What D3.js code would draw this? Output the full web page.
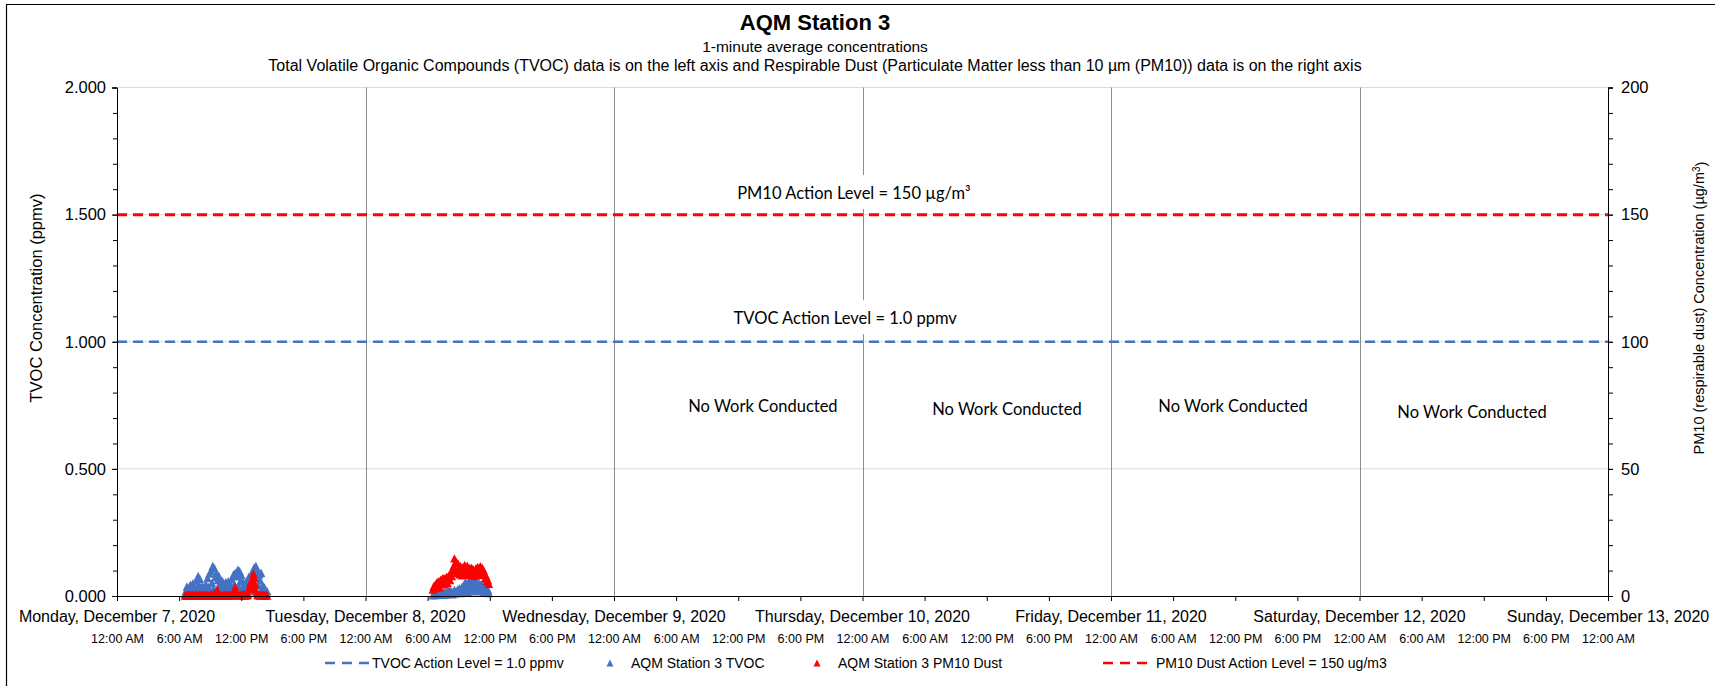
<!DOCTYPE html>
<html>
<head>
<meta charset="utf-8">
<script src="https://cdn.jsdelivr.net/npm/d3@7"></script>
<style>
  body { margin: 0; background: #fff; }
  svg { display: block; font-family: "Liberation Sans", Arial, sans-serif; }
</style>
</head>
<body>
<script>
var w = 1715;
var h = 686;

// titles
var title = "AQM Station 3";
var subtitle1 = "1-minute average concentrations";
var subtitle2 = "Total Volatile Organic Compounds (TVOC) data is on the left axis and Respirable Dust (Particulate Matter less than 10 \u00b5m (PM10)) data is on the right axis";
var leftTitle = "TVOC Concentration (ppmv)";

// axis ranges / ticks
var dayStart = new Date(2020, 11, 7);
var dayEnd = new Date(2020, 11, 13);
var dayLabels = ["Monday, December 7, 2020", "Tuesday, December 8, 2020", "Wednesday, December 9, 2020",
  "Thursday, December 10, 2020", "Friday, December 11, 2020", "Saturday, December 12, 2020", "Sunday, December 13, 2020"];
var leftTicks = [0, 0.5, 1, 1.5, 2];
var rightTicks = [0, 50, 100, 150, 200];

// 5-minute readings, Monday from 6:35 AM and Tuesday from 6:30 AM
var monStart = new Date(2020, 11, 7, 6, 35);
var tueStart = new Date(2020, 11, 8, 6, 30);
var stepMinutes = 5;

var tvocMon = [0.008, 0.021, 0.037, 0.012, 0.029, 0.018,
  0.044, 0.015, 0.031, 0.050, 0.022, 0.039,
  0.027, 0.061, 0.014, 0.079, 0.045, 0.068,
  0.033, 0.012, 0.040, 0.021, 0.028, 0.009,
  0.046, 0.018, 0.071, 0.035, 0.088, 0.025,
  0.097, 0.052, 0.118, 0.031, 0.109, 0.074,
  0.088, 0.019, 0.063, 0.080, 0.042, 0.057,
  0.028, 0.060, 0.014, 0.047, 0.035, 0.055,
  0.021, 0.043, 0.058, 0.011, 0.050, 0.032,
  0.067, 0.024, 0.085, 0.046, 0.090, 0.016,
  0.078, 0.103, 0.037, 0.098, 0.059, 0.084,
  0.026, 0.057, 0.041, 0.012, 0.053, 0.034,
  0.064, 0.022, 0.077, 0.048, 0.080, 0.030,
  0.095, 0.056, 0.112, 0.019, 0.118, 0.071,
  0.100, 0.043, 0.086, 0.062, 0.091, 0.027,
  0.040, 0.015, 0.033, 0.024, 0.011, 0.019];

var pm10Mon = [0.2, 0.4, 0.1, 0.3, 0.5, 0.2,
  0.3, 0.1, 0.5, 0.2, 0.4, 0.2,
  0.3, 0.5, 0.1, 0.4, 0.2, 0.6,
  0.2, 0.4, 0.1, 0.3, 0.5, 0.3,
  0.4, 0.2, 0.5, 0.1, 0.3, 0.4,
  0.2, 0.5, 0.3, 0.7, 0.4, 0.2,
  1.2, 2.6, 1.0, 0.4, 0.5, 0.2,
  0.4, 0.1, 0.3, 0.5, 0.2, 0.4,
  0.2, 0.5, 0.3, 0.1, 0.4, 0.3,
  0.5, 0.3, 0.9, 1.8, 3.4, 1.4,
  0.6, 0.4, 0.2, 0.5, 0.3, 0.5,
  0.3, 0.4, 0.7, 0.4, 0.2, 0.5,
  0.3, 0.8, 2.8, 4.1, 5.6, 3.2,
  6.4, 8.9, 7.2, 4.8, 2.6, 1.2,
  0.5, 0.3, 0.4, 0.2, 0.3, 0.5,
  0.2, 0.4, 0.1, 0.3, 0.5, 0.2];

var tvocTue = [0.003, 0.008, 0.005, 0.011, 0.004, 0.009,
  0.006, 0.012, 0.007, 0.014, 0.005, 0.010,
  0.013, 0.008, 0.017, 0.006, 0.015, 0.011,
  0.019, 0.009, 0.022, 0.014, 0.018, 0.007,
  0.016, 0.024, 0.011, 0.021, 0.013, 0.026,
  0.018, 0.031, 0.012, 0.027, 0.036, 0.015,
  0.042, 0.021, 0.055, 0.033, 0.048, 0.017,
  0.060, 0.028, 0.052, 0.063, 0.024, 0.049,
  0.037, 0.058, 0.019, 0.054, 0.044, 0.031,
  0.050, 0.022, 0.046, 0.035, 0.041, 0.016,
  0.038, 0.027, 0.033, 0.018, 0.025, 0.012];

var pm10Tue = [2.6, 3.8, 3.0, 4.5, 3.3, 5.5,
  4.0, 5.8, 3.4, 6.3, 4.8, 6.9,
  5.4, 7.1, 4.6, 6.7, 7.6, 5.2,
  7.2, 8.4, 6.3, 9.2, 7.9, 9.8,
  11.8, 14.8, 10.2, 13.5, 9.0, 12.9,
  11.0, 8.6, 11.8, 9.6, 8.2, 11.4,
  9.3, 12.2, 10.4, 8.5, 11.9, 9.8,
  8.4, 11.0, 9.2, 11.1, 8.1, 10.4,
  9.8, 8.0, 10.9, 8.8, 11.4, 8.6,
  10.6, 11.7, 9.3, 11.2, 8.3, 10.1,
  8.6, 7.0, 7.8, 5.9, 6.2, 4.8];

var tvocAction = 1.0;
var pm10Action = 150;

// text boxes placed on the chart (time, ppmv on left axis)
var notes = [
  { text: "PM10 Action Level = 150 \u00b5g/m\u00b3", date: new Date(2020, 11, 9, 23, 10), ppmv: 1.585, box: true },
  { text: "TVOC Action Level = 1.0 ppmv", date: new Date(2020, 11, 9, 22, 20), ppmv: 1.093, box: true },
  { text: "No Work Conducted", date: new Date(2020, 11, 9, 14, 23), ppmv: 0.747 },
  { text: "No Work Conducted", date: new Date(2020, 11, 10, 13, 57), ppmv: 0.735 },
  { text: "No Work Conducted", date: new Date(2020, 11, 11, 11, 47), ppmv: 0.747 },
  { text: "No Work Conducted", date: new Date(2020, 11, 12, 10, 52), ppmv: 0.724 }
];

var legendItems = [
  { name: "TVOC Action Level = 1.0 ppmv", kind: "line", color: "#4472C4" },
  { name: "AQM Station 3 TVOC", kind: "marker", color: "#4472C4" },
  { name: "AQM Station 3 PM10 Dust", kind: "marker", color: "#FF0000" },
  { name: "PM10 Dust Action Level = 150 ug/m3", kind: "line", color: "#FF0000" }
];

function toSeries(start, values) {
  return values.map(function(v, i) {
    return { t: d3.timeMinute.offset(start, i * stepMinutes), v: v };
  });
}
var tvocData = toSeries(monStart, tvocMon).concat(toSeries(tueStart, tvocTue));
var pm10Data = toSeries(monStart, pm10Mon).concat(toSeries(tueStart, pm10Tue));

var margin = { left: 117, right: 107, top: 87.5, bottom: 90 };
var plotW = w - margin.left - margin.right;
var plotH = h - margin.top - margin.bottom;

var x = d3.scaleTime().domain([dayStart, dayEnd]).range([0, plotW]);
var yL = d3.scaleLinear().domain([0, 2]).range([plotH, 0]);
var yR = d3.scaleLinear().domain([0, 200]).range([plotH, 0]);

var svg = d3.select("body")
  .append("svg")
  .attr("width", w)
  .attr("height", h);

svg.append("rect").attr("width", w).attr("height", h).attr("fill", "#fff");

// chart frame (only left and top edges fall inside the picture)
svg.append("path")
  .attr("d", "M6.5," + h + "V4.5H" + w)
  .attr("fill", "none")
  .attr("stroke", "#000")
  .attr("stroke-width", 1.2);

// titles
var cx = 815;
svg.append("text").attr("x", cx).attr("y", 30).attr("text-anchor", "middle")
  .style("font-size", "22px").style("font-weight", "bold").text(title);
svg.append("text").attr("x", cx).attr("y", 52).attr("text-anchor", "middle")
  .style("font-size", "15.5px").text(subtitle1);
svg.append("text").attr("x", cx).attr("y", 71).attr("text-anchor", "middle")
  .style("font-size", "16px").text(subtitle2);

var g = svg.append("g").attr("transform", "translate(" + margin.left + "," + margin.top + ")");

// horizontal gridlines
g.append("g").selectAll("line")
  .data(leftTicks.filter(function(d) { return d > 0; }))
  .enter().append("line")
  .attr("x1", 0).attr("x2", plotW)
  .attr("y1", function(d) { return yL(d); }).attr("y2", function(d) { return yL(d); })
  .attr("stroke", "#d9d9d9").attr("stroke-width", 1);

// vertical day gridlines
var days = d3.timeDay.range(dayStart, d3.timeDay.offset(dayEnd, 1));
g.append("g").selectAll("line")
  .data(days.slice(1, -1))
  .enter().append("line")
  .attr("x1", function(d) { return Math.round(x(d)) + 0.5; })
  .attr("x2", function(d) { return Math.round(x(d)) + 0.5; })
  .attr("y1", 0).attr("y2", plotH)
  .attr("stroke", "#8c8c8c").attr("stroke-width", 1);

// white boxes behind the action level notes
var noteFont = "Lato, 'Open Sans', sans-serif";
var boxed = notes.filter(function(d) { return d.box; });
g.append("g").selectAll("rect")
  .data(boxed)
  .enter().append("rect")
  .attr("x", function(d) { return x(d.date) - 125; })
  .attr("y", function(d) { return yL(d.ppmv) - 18; })
  .attr("width", 250).attr("height", 34)
  .attr("fill", "#fff");

// action level lines
g.append("line")
  .attr("x1", 0).attr("x2", plotW)
  .attr("y1", yL(tvocAction)).attr("y2", yL(tvocAction))
  .attr("stroke", "#4472C4").attr("stroke-width", 2.5).attr("stroke-dasharray", "10,6");
g.append("line")
  .attr("x1", 0).attr("x2", plotW)
  .attr("y1", yR(pm10Action)).attr("y2", yR(pm10Action))
  .attr("stroke", "#FF0000").attr("stroke-width", 3).attr("stroke-dasharray", "10,6");

// notes text
g.append("g").selectAll("text")
  .data(notes)
  .enter().append("text")
  .attr("x", function(d) { return x(d.date); })
  .attr("y", function(d) { return yL(d.ppmv); })
  .attr("dy", "0.35em")
  .attr("text-anchor", "middle")
  .style("font-family", noteFont)
  .style("font-size", "16.5px")
  .attr("fill", "#000")
  .text(function(d) { return d.text; });

// Excel-style triangle marker (as wide as it is tall)
var excelTriangle = {
  draw: function(context, size) {
    var r = Math.sqrt(size) / 2;
    context.moveTo(0, -r);
    context.lineTo(r, r);
    context.lineTo(-r, r);
    context.closePath();
  }
};
var tri = d3.symbol().type(excelTriangle).size(72);

g.append("g").selectAll("path")
  .data(tvocData)
  .enter().append("path")
  .attr("d", tri)
  .attr("transform", function(d) { return "translate(" + x(d.t) + "," + yL(d.v) + ")"; })
  .attr("fill", "#4472C4");
g.append("g").selectAll("path")
  .data(pm10Data)
  .enter().append("path")
  .attr("d", tri)
  .attr("transform", function(d) { return "translate(" + x(d.t) + "," + yR(d.v) + ")"; })
  .attr("fill", "#FF0000");

// left axis
var leftAxis = g.append("g")
  .call(d3.axisLeft(yL).tickValues(leftTicks).tickFormat(d3.format(".3f")).tickSize(5).tickPadding(6));
g.append("g")
  .call(d3.axisLeft(yL).tickValues(d3.range(0, 2.01, 0.1)).tickFormat("").tickSize(4).tickSizeOuter(0))
  .select(".domain").remove();
leftAxis.selectAll("text").style("font-size", "16.5px").style("font-family", "Liberation Sans, Arial, sans-serif");

// right axis
var rightAxis = g.append("g")
  .attr("transform", "translate(" + plotW + ",0)")
  .call(d3.axisRight(yR).tickValues(rightTicks).tickSize(5).tickPadding(8));
g.append("g")
  .attr("transform", "translate(" + plotW + ",0)")
  .call(d3.axisRight(yR).tickValues(d3.range(0, 201, 10)).tickFormat("").tickSize(5).tickSizeOuter(0))
  .select(".domain").remove();
rightAxis.selectAll("text").style("font-size", "16.5px").style("font-family", "Liberation Sans, Arial, sans-serif");

// bottom axis: 6-hour ticks with time labels, day labels above them
var bottomAxis = g.append("g")
  .attr("transform", "translate(0," + plotH + ")")
  .call(d3.axisBottom(x).ticks(d3.timeHour.every(6)).tickFormat(d3.timeFormat("%-I:%M %p")).tickSize(5).tickSizeOuter(0).tickPadding(33));
bottomAxis.selectAll("text").style("font-size", "12.5px").style("font-family", "Liberation Sans, Arial, sans-serif");

g.append("g").selectAll("text")
  .data(days)
  .enter().append("text")
  .attr("x", function(d) { return x(d); })
  .attr("y", plotH + 26)
  .attr("text-anchor", "middle")
  .style("font-size", "16px")
  .text(function(d, i) { return dayLabels[i]; });

g.selectAll(".domain").attr("stroke", "#000");
g.selectAll(".tick line").attr("stroke", "#000");

// axis titles
svg.append("text")
  .attr("transform", "translate(42,298) rotate(-90)")
  .attr("text-anchor", "middle")
  .style("font-size", "16.5px")
  .text(leftTitle);

var rt = svg.append("text")
  .attr("transform", "translate(1704,308) rotate(-90)")
  .attr("text-anchor", "middle")
  .style("font-size", "14.5px");
rt.append("tspan").text("PM10 (respirable dust) Concentration (\u00b5g/m");
rt.append("tspan").attr("dy", "-0.4em").style("font-size", "10px").text("3");
rt.append("tspan").attr("dy", "0.4em").text(")");

// legend
var legendX = [325, 600, 807, 1103];
var legendLineW = [44, 0, 0, 50];
var legendY = 663;
var lg = svg.append("g").selectAll("g")
  .data(legendItems)
  .enter().append("g")
  .attr("transform", function(d, i) { return "translate(" + legendX[i] + "," + legendY + ")"; });

lg.filter(function(d) { return d.kind === "line"; })
  .append("line")
  .attr("x1", 0).attr("x2", function(d) { return legendLineW[legendItems.indexOf(d)]; })
  .attr("y1", 0).attr("y2", 0)
  .attr("stroke", function(d) { return d.color; })
  .attr("stroke-width", 2.5)
  .attr("stroke-dasharray", "10,7");
lg.filter(function(d) { return d.kind === "marker"; })
  .append("path")
  .attr("d", d3.symbol().type(excelTriangle).size(49))
  .attr("transform", "translate(10,0)")
  .attr("fill", function(d) { return d.color; });
lg.append("text")
  .attr("x", function(d, i) { return d.kind === "line" ? legendLineW[i] + 3 : 31; })
  .attr("dy", "0.35em")
  .style("font-size", "14px")
  .text(function(d) { return d.name; });
</script>
</body>
</html>
